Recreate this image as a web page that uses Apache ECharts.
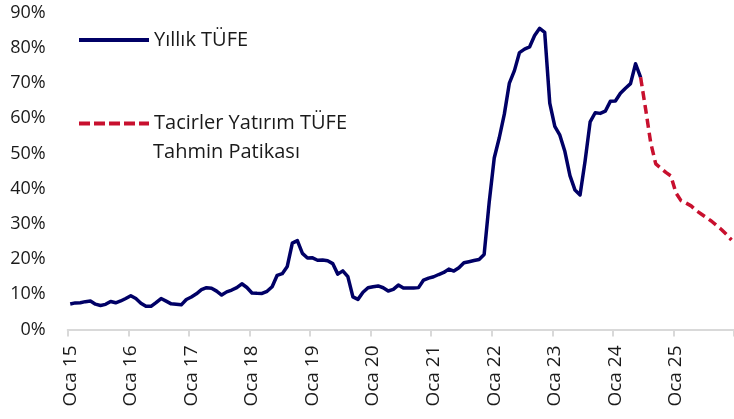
<!DOCTYPE html>
<html>
<head>
<meta charset="utf-8">
<script src="https://cdn.jsdelivr.net/npm/echarts@6/dist/echarts.min.js"></script>
<style>
html,body{margin:0;padding:0;background:#fff;}
#c{width:734px;height:419px;}
</style>
</head>
<body>
<div id="c"></div>
<script>
// Month names (Turkish) and years used for category labels
const monthNames = ['Oca','Şub','Mar','Nis','May','Haz','Tem','Ağu','Eyl','Eki','Kas','Ara'];
const years = ['15','16','17','18','19','20','21','22','23','24','25'];

// Yıllık TÜFE (%), Oca 15 – Haz 24
const actualCPI = [
  7.24, 7.55, 7.61, 7.91, 8.09, 7.20, 6.81, 7.14, 7.95, 7.58, 8.10, 8.81,
  9.58, 8.78, 7.46, 6.57, 6.58, 7.64, 8.79, 8.05, 7.28, 7.16, 7.00, 8.53,
  9.22, 10.13, 11.29, 11.87, 11.72, 10.90, 9.79, 10.68, 11.20, 11.90, 12.98, 11.92,
  10.35, 10.26, 10.23, 10.85, 12.15, 15.39, 15.85, 17.90, 24.52, 25.24, 21.62, 20.30,
  20.35, 19.67, 19.71, 19.50, 18.71, 15.72, 16.65, 15.01, 9.26, 8.55, 10.56, 11.84,
  12.15, 12.37, 11.86, 10.94, 11.39, 12.62, 11.76, 11.77, 11.75, 11.89, 14.03, 14.60,
  14.97, 15.61, 16.19, 17.14, 16.59, 17.53, 18.95, 19.25, 19.58, 19.89, 21.31, 36.08,
  48.69, 54.44, 61.14, 69.97, 73.50, 78.62, 79.60, 80.21, 83.45, 85.51, 84.39, 64.27,
  57.68, 55.18, 50.51, 43.68, 39.59, 38.21, 47.83, 58.94, 61.53, 61.36, 61.98, 64.77,
  64.86, 67.07, 68.50, 69.80, 75.45, 71.60
];

// Tacirler Yatırım TÜFE Tahmin Patikası (%), Haz 24 – Ara 25
const forecastCPI = [
  71.60, 62.5, 53.0, 47.0, 45.8, 44.6, 43.6,
  38.8, 36.6, 35.9, 35.1, 33.8, 32.8, 31.8, 30.8, 29.6, 28.4, 27.0, 25.4
];

const seriesNames = ['Yıllık TÜFE', 'Tacirler Yatırım TÜFE'];
const legendSecondLine = 'Tahmin Patikası';

const categories = [];
years.forEach(y => monthNames.forEach(m => categories.push(m + ' ' + y)));
const forecastStart = actualCPI.length - 1;

const blueData = categories.map((_, i) => i < actualCPI.length ? actualCPI[i] : null);
const redData = categories.map((_, i) => (i >= forecastStart && i - forecastStart < forecastCPI.length) ? forecastCPI[i - forecastStart] : null);

const FONT = 'Open Sans';
const TXT = '#1a1a1a';
const BLUE = '#000066';
const RED = '#c8102e';

const legendBase = {
  left: 77, padding: 0, orient: 'vertical',
  itemWidth: 70, itemHeight: 14, itemGap: 0,
  itemStyle: {opacity: 0, color: 'rgba(0,0,0,0)', borderWidth: 0},
  textStyle: {fontFamily: FONT, fontSize: 20, color: TXT}
};

const chart = echarts.init(document.getElementById('c'), null, {renderer: 'canvas'});
chart.setOption({
  animation: false,
  backgroundColor: '#fff',
  grid: {left: 67.7, top: 12.5, width: 668.4, bottom: 89.5, containLabel: false},
  legend: [
    Object.assign({}, legendBase, {data: [seriesNames[0]], top: 30, lineStyle: {width: 4}}),
    Object.assign({}, legendBase, {data: [seriesNames[1]], top: 113.5, lineStyle: {width: 4, type: [11, 4]}})
  ],
  graphic: [{
    type: 'text', left: 153, top: 142,
    style: {text: legendSecondLine, font: '20px "Open Sans"', fill: TXT}
  }],
  xAxis: {
    type: 'category',
    data: categories,
    boundaryGap: true,
    axisLine: {show: true, lineStyle: {color: '#d9d9d9', width: 2}},
    axisTick: {show: true, length: 7, interval: (i) => i % 12 === 0, lineStyle: {color: '#d9d9d9', width: 2}},
    axisLabel: {
      interval: (i) => i % 12 === 0,
      rotate: 90, margin: 16,
      fontFamily: FONT, fontSize: 19, color: TXT
    },
    splitLine: {show: false}
  },
  yAxis: {
    type: 'value', min: 0, max: 90, interval: 10,
    axisLine: {show: false}, axisTick: {show: false},
    splitLine: {show: false},
    axisLabel: {formatter: '{value}%', fontFamily: FONT, fontSize: 18, color: TXT, margin: 22}
  },
  series: [
    {
      name: seriesNames[0], type: 'line', data: blueData, symbol: 'none',
      lineStyle: {color: BLUE, width: 3.5, join: 'round'}, itemStyle: {color: BLUE}
    },
    {
      name: seriesNames[1], type: 'line', data: redData, symbol: 'none',
      lineStyle: {color: RED, width: 3.5, type: [9, 5]}, itemStyle: {color: RED}
    }
  ]
});
</script>
</body>
</html>
